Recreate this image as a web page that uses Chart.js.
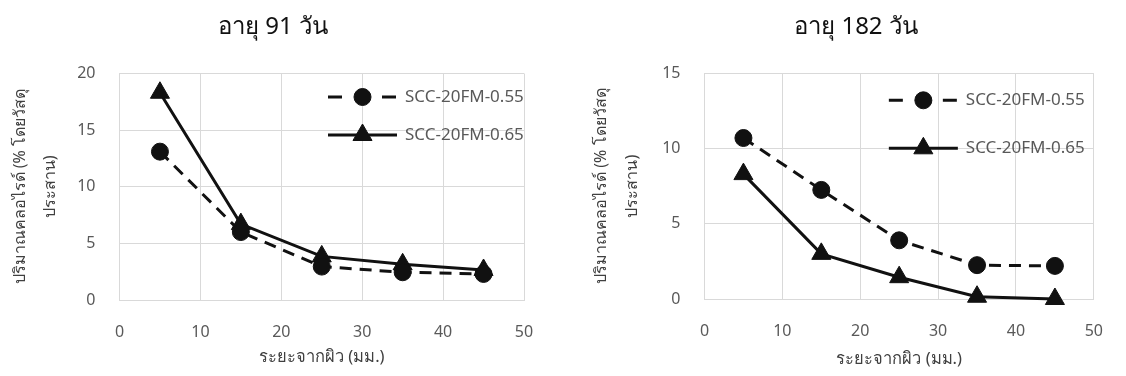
<!DOCTYPE html>
<html>
<head>
<meta charset="utf-8">
<script src="https://cdn.jsdelivr.net/npm/chart.js@4.4.1/dist/chart.umd.min.js"></script>
<style>
  html, body { margin: 0; padding: 0; background: #fff; }
  body { width: 1126px; height: 376px; position: relative; overflow: hidden;
         font-family: "Noto Sans", "DejaVu Sans", sans-serif; }
  .box { position: absolute; top: 0; height: 376px; }
  .title { position: absolute; top: 9px; font-size: 24px; color: #111; white-space: nowrap;
           transform: translateX(-50%); line-height: 32px; }
</style>
</head>
<body>
<div class="box" style="left:0;width:560px"><canvas id="c91"></canvas></div>
<div class="box" style="left:560px;width:566px"><canvas id="c182"></canvas></div>
<div class="title" style="left:273px">อายุ 91 วัน</div>
<div class="title" style="left:856px">อายุ 182 วัน</div>
<script>
// distance from surface (mm) and chloride content (% by binder)
const distances = [5, 15, 25, 35, 45];
const seriesNames = ["SCC-20FM-0.55", "SCC-20FM-0.65"];
const day91_055 = [13.1, 6.0, 2.95, 2.45, 2.3];
const day91_065 = [18.3, 6.7, 3.85, 3.15, 2.65];
const day182_055 = [10.7, 7.25, 3.9, 2.25, 2.2];
const day182_065 = [8.3, 3.0, 1.45, 0.15, 0.0];
const yTitle = ["ปริมาณคลอไรด์ (% โดยวัสดุ", "ประสาน)"];
const xTitle = "ระยะจากผิว (มม.)";

const FONT = '"Noto Sans", "DejaVu Sans", sans-serif';
const INK = "#111";
const TICK = "#595959";
const AXIS = "#404040";
const GRID = "#d9d9d9";

Chart.defaults.font.family = FONT;

// legend drawn inside the plot, line + marker like the spreadsheet one
const insideLegend = {
  id: "insideLegend",
  afterDatasetsDraw(chart, args, opts) {
    const { ctx, chartArea } = chart;
    const x0 = chartArea.right - opts.fromRight;
    chart.data.datasets.forEach((ds, i) => {
      const y = chartArea.top + opts.rows[i];
      ctx.save();
      ctx.strokeStyle = ds.borderColor;
      ctx.lineWidth = ds.borderWidth;
      ctx.setLineDash(ds.borderDash ? opts.dash : []);
      ctx.beginPath(); ctx.moveTo(x0, y); ctx.lineTo(x0 + opts.lineLen, y); ctx.stroke();
      ctx.setLineDash([]);
      ctx.fillStyle = ds.backgroundColor;
      ctx.lineWidth = 1;
      Chart.helpers.drawPoint(ctx, { pointStyle: ds.pointStyle, radius: ds.pointRadius, rotation: 0, borderWidth: 1 },
        x0 + opts.lineLen / 2, y);
      ctx.fillStyle = TICK;
      ctx.font = "17px " + FONT;
      ctx.textBaseline = "middle";
      ctx.textAlign = "left";
      ctx.fillText(ds.label, x0 + opts.lineLen + opts.gap, y);
      ctx.restore();
    });
  },
};

function buildChart(id, s055, s065, yMax, L) {
  const pts = (ys) => distances.map((x, i) => ({ x, y: ys[i] }));
  return new Chart(document.getElementById(id), {
    type: "line",
    data: { datasets: [
      { label: seriesNames[0], data: pts(s055), borderColor: INK, backgroundColor: INK, borderWidth: 3,
        borderDash: [12, 8], pointStyle: "circle", pointRadius: 8.5, pointBorderWidth: 1, clip: false, tension: 0 },
      { label: seriesNames[1], data: pts(s065), borderColor: INK, backgroundColor: INK, borderWidth: 3,
        pointStyle: "triangle", pointRadius: 11, pointBorderWidth: 1, clip: false, tension: 0 },
    ] },
    options: {
      responsive: true, maintainAspectRatio: false, animation: false,
      layout: { padding: { left: 0, right: L.padR, top: L.top, bottom: L.padB } },
      scales: {
        x: {
          type: "linear", min: 0, max: 50,
          ticks: { stepSize: 10, padding: L.xTickPad, color: TICK, font: { size: 16 } },
          grid: { color: GRID, drawTicks: false }, border: { color: GRID },
          title: { display: true, text: xTitle, color: AXIS, font: { size: 16.5 }, padding: { top: 0, bottom: 4 } },
          afterFit: (s) => { s.height = L.xH; },
        },
        y: {
          min: 0, max: yMax,
          ticks: { stepSize: 5, padding: 24, color: TICK, font: { size: 16 } },
          grid: { color: GRID, drawTicks: false }, border: { color: GRID },
          title: { display: true, text: yTitle, color: AXIS, font: { size: 16, lineHeight: 1.9 },
            padding: { top: L.yTitlePad, bottom: 0 } },
          afterFit: (s) => { s.width = L.yW; },
        },
      },
      plugins: {
        legend: { display: false },
        tooltip: { enabled: false },
        insideLegend: { fromRight: L.legRight, rows: L.legRows, lineLen: 69, gap: 8, dash: [14, 13] },
      },
    },
    plugins: [insideLegend],
  });
}

buildChart("c91", day91_055, day91_065, 20,
  { padR: 36, top: 73.5, padB: 5, xH: 71, xTickPad: 23, yW: 119.5, yTitlePad: 4.8, legRight: 196, legRows: [23.5, 61.5] });
buildChart("c182", day182_055, day182_065, 15,
  { padR: 21, top: 73.3, padB: 3, xH: 74, xTickPad: 23, yW: 144.5, yTitlePad: 26.5, legRight: 205, legRows: [27, 75] });
</script>
</body>
</html>
